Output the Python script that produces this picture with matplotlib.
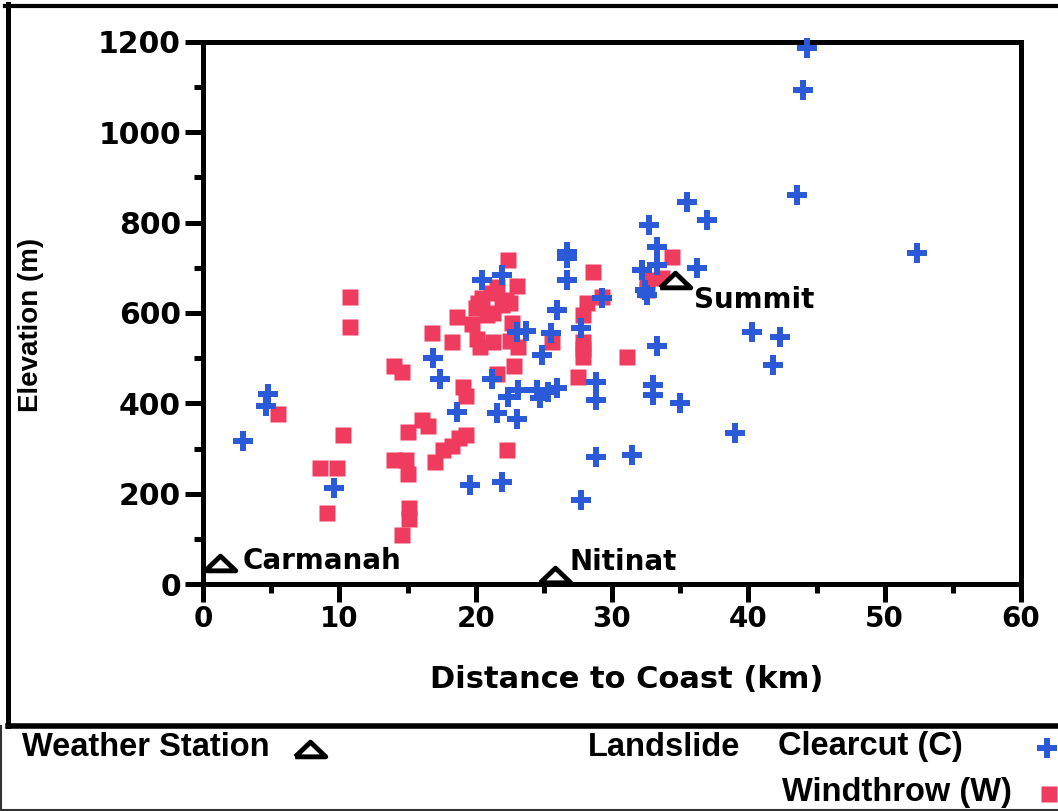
import matplotlib
matplotlib.use("Agg")
import matplotlib.pyplot as plt
from matplotlib.lines import Line2D
from matplotlib.ticker import MultipleLocator

# ---- data ----
# Clearcut (C) landslides: distance to coast (km), elevation (m)
cc_dist = [2.9, 4.8, 4.6, 9.6, 16.9, 17.4, 18.6, 19.6, 20.5, 21.9, 21.2, 21.6, 23.0, 21.9,
           22.4, 23.1, 24.5, 24.7, 25.3, 26.0, 23.0, 23.7, 25.5, 24.9, 26.0, 26.7, 26.7,
           26.7, 27.7, 27.7, 28.8, 28.8, 28.8, 29.3, 31.5, 32.7, 33.3, 33.3, 32.2, 32.4,
           32.6, 33.3, 33.0, 33.0, 35.0, 35.5, 37.0, 36.2, 40.3, 39.0, 44.3, 44.0, 43.6,
           52.4, 42.3, 41.8]
cc_elev = [317, 420, 395, 212, 501, 454, 380, 219, 673, 684, 454, 379, 365, 226,
           414, 429, 429, 411, 425, 434, 558, 560, 555, 507, 607, 735, 722,
           673, 567, 186, 447, 407, 281, 633, 286, 795, 746, 706, 695, 651,
           640, 527, 441, 418, 400, 845, 806, 700, 558, 334, 1187, 1094, 861,
           733, 547, 485]

# Windthrow (W) landslides
wt_dist = [5.5, 8.6, 9.8, 9.1, 10.3, 10.8, 10.8, 14.0, 14.6, 14.0, 14.9, 15.0, 15.0, 15.1,
           15.1, 14.6, 16.1, 16.5, 16.8, 17.0, 17.6, 18.3, 18.8, 19.3, 19.1, 19.3, 18.6,
           18.3, 19.7, 20.0, 20.2, 20.5, 21.1, 21.6, 21.3, 20.8, 21.9, 22.2, 22.5, 22.4,
           23.0, 20.1, 20.3, 21.3, 22.7, 22.5, 23.1, 22.8, 21.6, 22.3, 25.6, 27.5, 27.9,
           27.9, 27.9, 27.9, 28.2, 28.6, 29.3, 31.1, 32.6, 32.6, 33.7, 34.4]
wt_elev = [376, 257, 257, 157, 330, 635, 569, 483, 469, 274, 274, 243, 336, 168,
           145, 108, 363, 350, 556, 270, 297, 306, 323, 330, 436, 416, 591,
           536, 576, 611, 622, 633, 644, 657, 600, 596, 617, 629, 622, 717,
           660, 543, 525, 536, 578, 538, 525, 483, 465, 297, 536, 458, 503,
           520, 535, 596, 622, 690, 636, 503, 673, 651, 677, 724]

# weather stations
st_names = ["Carmanah", "Nitinat", "Summit"]
st_dist = [1.25, 25.8, 34.6]
st_elev = [46, 20, 673]
st_offsets = [(23, 2), (15, 13), (19, -20)]  # label offset in pixels

BLUE = "#2b5ad9"
RED = "#ef3b5e"

W, H = 1058, 811


def fx(px):
    return px / W


def fy(py):
    return 1 - py / H


plt.rcParams["font.family"] = "DejaVu Sans"
plt.rcParams["font.weight"] = "bold"

fig = plt.figure(figsize=(W / 100, H / 100), dpi=100)
ax = fig.add_axes([fx(203), fy(584), 818 / W, 542 / H])

# flattened open triangle used for the weather stations
tri = [(-1, -0.48), (1, -0.48), (0, 0.48), (-1, -0.48)]

ax.plot(wt_dist, wt_elev, ls="none", marker="s", ms=11.5, mfc=RED, mec="none",
        clip_on=False, zorder=3)
ax.plot(cc_dist, cc_elev, ls="none", marker="+", ms=15, mew=4.3, color=BLUE,
        clip_on=False, zorder=4)
ax.plot(st_dist, st_elev, ls="none", marker=tri, ms=22, mfc="white", mec="black",
        mew=3.5, clip_on=False, zorder=5)
for name, x, y, off in zip(st_names, st_dist, st_elev, st_offsets):
    ax.annotate(name, (x, y), xytext=off, textcoords="offset pixels",
                ha="left", va="center", fontsize=20, fontweight="bold", zorder=6)

ax.set_xlim(0, 60)
ax.set_ylim(0, 1200)
ax.xaxis.set_major_locator(MultipleLocator(10))
ax.xaxis.set_minor_locator(MultipleLocator(5))
ax.yaxis.set_major_locator(MultipleLocator(200))
ax.yaxis.set_minor_locator(MultipleLocator(100))
ax.tick_params(which="major", length=13, width=3.6, direction="out", labelsize=20, pad=2)
ax.tick_params(axis="y", which="major", labelsize=21.5, pad=3)
ax.tick_params(which="minor", length=6.5, width=3.6, direction="out")
for s in ax.spines.values():
    s.set_linewidth(3.6)

fig.text(fx(627), fy(680), "Distance to Coast (km)", ha="center", va="center",
         fontsize=22, fontweight="bold")
fig.text(fx(31), fy(325), "Elevation (m)", ha="center", va="center", rotation=90,
         fontsize=20, fontweight="bold", family=["Liberation Sans", "DejaVu Sans"])

# frame around the figure and the legend strip
fig.add_artist(Line2D([fx(5), 1], [fy(6), fy(6)], lw=3, color="black"))
fig.add_artist(Line2D([fx(8), fx(8)], [fy(4), fy(726)], lw=3.6, color="black"))
fig.add_artist(Line2D([fx(8), 1], [fy(726), fy(726)], lw=4, color="black"))
fig.add_artist(Line2D([fx(1), fx(1)], [fy(726), fy(810)], lw=1.5, color="#333333"))
fig.add_artist(Line2D([0, 1], [fy(809.5), fy(809.5)], lw=1.5, color="#333333"))

# legend strip
leg_font = dict(fontsize=23.5, fontweight="bold", va="center", ha="left",
                family=["Liberation Sans", "DejaVu Sans"])
fig.text(fx(22), fy(747), "Weather Station", **leg_font)
fig.text(fx(588), fy(747), "Landslide", **leg_font)
fig.text(fx(778), fy(747), "Clearcut (C)", **leg_font)
fig.text(fx(782), fy(792), "Windthrow (W)", **leg_font)
fig.add_artist(Line2D([fx(310)], [fy(749)], ls="none", marker=tri, ms=22, mfc="white",
                      mec="black", mew=3.5))
fig.add_artist(Line2D([fx(1047)], [fy(748)], ls="none", marker="+", ms=15, mew=4.3,
                      color=BLUE))
fig.add_artist(Line2D([fx(1049)], [fy(794)], ls="none", marker="s", ms=11.5, mfc=RED,
                      mec="none"))

fig.savefig("out.png", dpi=100, facecolor="white")
